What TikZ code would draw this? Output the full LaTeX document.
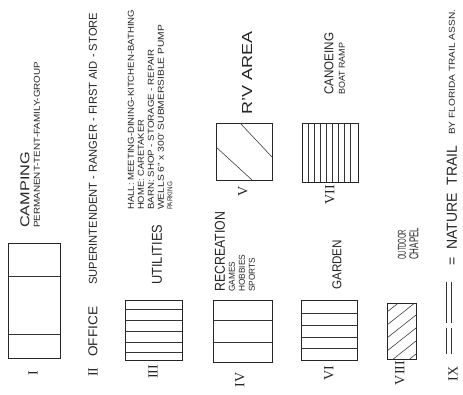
\documentclass[tikz,border=0pt]{standalone}
\usepackage{graphicx}
\usepackage{fontspec}
\setmainfont{Liberation Sans}
\newfontfamily\numfont{Liberation Serif}
\tikzset{
  pen/.style={draw=black!85, line width=0.9pt},
  thin pen/.style={draw=black!80, line width=0.55pt},
  vtext/.style={rotate=90, anchor=west, inner sep=0pt, text=black!85},
  numeral/.style={rotate=90, inner sep=0pt, text=black!85, font=\numfont\fontsize{14}{14}\selectfont},
}
% #1 name, #2 x centre, #3 y start (bottom), #4 length, #5 cap height, #6 text
\newcommand\vt[6]{\node[vtext] (#1) at (#2,-#3) {\resizebox{#4pt}{#5pt}{#6}};}
\begin{document}
\begin{tikzpicture}[x=1pt,y=1pt]
\useasboundingbox[fill=white] (0,0) rectangle (463,-395);

% ---------- I CAMPING ----------
\draw[pen] (8,-243) rectangle (60,-358);
\draw[thin pen] (8,-276) -- (60,-276);
\draw[thin pen] (8,-334) -- (60,-334);
\node[numeral] (nI) at (33,-373) {I};
\vt{camping}{25}{228}{76}{9}{CAMPING}
\vt{campsub}{37}{228}{166}{6}{PERMANENT-TENT-FAMILY-GROUP}

% ---------- II OFFICE ----------
\node[numeral] (nII) at (93,-372) {II};
\vt{office}{93}{357}{50}{9}{OFFICE}
\vt{officesub}{93}{285}{272}{8}{SUPERINTENDENT - RANGER - FIRST AID - STORE}

% ---------- III UTILITIES ----------
\draw[pen] (125,-300) rectangle (182,-360);
\foreach \yy in {309,320,331,342,352} \draw[thin pen] (125,-\yy) -- (182,-\yy);
\node[numeral] (nIII) at (153,-372) {III};
\vt{utilities}{157}{285}{60}{10}{UTILITIES}
\vt{hall}{131}{210}{200}{6}{HALL: MEETING-DINING-KITCHEN-BATHING}
\vt{home}{141}{210}{90}{6}{HOME: CARETAKER}
\vt{barn}{151}{210}{160}{6}{BARN: SHOP - STORAGE - REPAIR}
\vt{wells}{161}{210}{185}{6}{WELLS 6" x 300' SUBMERSIBLE PUMP}
\vt{parking}{170}{210}{28}{5}{PARKING}

% ---------- IV RECREATION ----------
\draw[pen] (213,-300) rectangle (272,-362);
\draw[thin pen] (213,-320) -- (272,-320);
\draw[thin pen] (213,-342) -- (272,-342);
\node[numeral] (nIV) at (240,-380) {IV};
\vt{recreation}{220}{292}{80}{10}{RECREATION}
\vt{games}{232}{292}{30}{6}{GAMES}
\vt{hobbies}{242}{292}{37}{6}{HOBBIES}
\vt{sports}{252}{292}{34}{6}{SPORTS}

% ---------- V RV AREA ----------
\draw[pen] (216,-123) rectangle (272,-180);
\draw[thin pen] (216,-147) -- (252,-180);
\draw[thin pen] (240,-123) -- (272,-157);
\node[numeral] (nV) at (243,-191) {V};
\vt{rv}{247}{115}{83}{10}{R'V AREA}

% ---------- VI GARDEN ----------
\draw[pen] (301,-300) rectangle (357,-360);
\foreach \yy in {313,325,337,348} \draw[thin pen] (301,-\yy) -- (357,-\yy);
\node[numeral] (nVI) at (329,-373) {VI};
\vt{garden}{337}{290}{50}{9}{GARDEN}

% ---------- VII CANOEING ----------
\draw[pen] (302,-123) rectangle (358,-182);
\foreach \xx in {308,314,320,326,332,338,344,350} \draw[thin pen] (\xx,-123) -- (\xx,-182);
\node[numeral] (nVII) at (330,-195) {VII};
\vt{canoeing}{329}{95}{62}{9}{CANOEING}
\vt{boat}{342}{95}{52}{6}{BOAT RAMP}

% ---------- VIII OUTDOOR CHAPEL ----------
\draw[pen] (387,-303) rectangle (416,-359);
\begin{scope}
\clip (387,-303) rectangle (416,-359);
\foreach \c in {312,325,338,351,364,377} \draw[thin pen] (387,-\c) -- (416,-\c+23);
\end{scope}
\node[numeral] (nVIII) at (400,-373) {VIII};
\vt{outdoor}{402}{260}{30}{8}{OUTDOOR}
\vt{chapel}{414}{260}{32}{9}{CHAPEL}

% ---------- IX NATURE TRAIL ----------
\node[numeral] (nIX) at (453,-374) {IX};
\coordinate (t1a) at (446,-328); \coordinate (t1b) at (446,-354);
\coordinate (t2a) at (446,-282); \coordinate (t2b) at (446,-323);
\draw[thin pen] (t1a) -- (t1b) ([xshift=5pt]t1a) -- ([xshift=5pt]t1b);
\draw[thin pen] (t2a) -- (t2b) ([xshift=5pt]t2a) -- ([xshift=5pt]t2b);
\vt{nature}{452}{266}{120}{10}{= \ NATURE \ TRAIL}
\vt{by}{452}{135}{125}{6}{BY FLORIDA TRAIL ASSN.}
\end{tikzpicture}
\end{document}
